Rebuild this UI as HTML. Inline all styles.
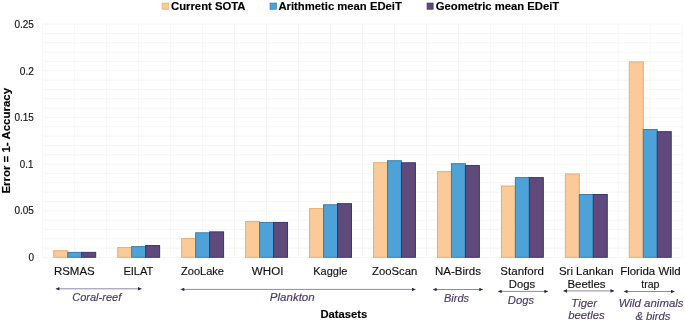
<!DOCTYPE html>
<html><head><meta charset="utf-8"><style>
html,body{margin:0;padding:0;background:#fff;}
body{width:685px;height:322px;overflow:hidden;position:relative;font-family:"Liberation Sans",sans-serif;}
svg{position:absolute;left:0;top:0;filter:blur(0.35px);}
svg text{font-family:"Liberation Sans",sans-serif;stroke-width:0.15px;}
</style></head><body>
<svg width="685" height="322" viewBox="0 0 685 322">
<defs>
<marker id="ah" viewBox="0 0 10 10" refX="10" refY="5" markerWidth="4" markerHeight="3.6" orient="auto-start-reverse" markerUnits="userSpaceOnUse"><path d="M0,0 L10,5 L0,10 z" fill="#2F2745"/></marker>
</defs>
<g stroke="#f6f6f6" stroke-width="1"><line x1="42.75" y1="257.50" x2="682.25" y2="257.50"/><line x1="42.75" y1="248.16" x2="682.25" y2="248.16"/><line x1="42.75" y1="238.83" x2="682.25" y2="238.83"/><line x1="42.75" y1="229.49" x2="682.25" y2="229.49"/><line x1="42.75" y1="220.16" x2="682.25" y2="220.16"/><line x1="42.75" y1="210.82" x2="682.25" y2="210.82"/><line x1="42.75" y1="201.48" x2="682.25" y2="201.48"/><line x1="42.75" y1="192.15" x2="682.25" y2="192.15"/><line x1="42.75" y1="182.81" x2="682.25" y2="182.81"/><line x1="42.75" y1="173.48" x2="682.25" y2="173.48"/><line x1="42.75" y1="164.14" x2="682.25" y2="164.14"/><line x1="42.75" y1="154.80" x2="682.25" y2="154.80"/><line x1="42.75" y1="145.47" x2="682.25" y2="145.47"/><line x1="42.75" y1="136.13" x2="682.25" y2="136.13"/><line x1="42.75" y1="126.80" x2="682.25" y2="126.80"/><line x1="42.75" y1="117.46" x2="682.25" y2="117.46"/><line x1="42.75" y1="108.12" x2="682.25" y2="108.12"/><line x1="42.75" y1="98.79" x2="682.25" y2="98.79"/><line x1="42.75" y1="89.45" x2="682.25" y2="89.45"/><line x1="42.75" y1="80.12" x2="682.25" y2="80.12"/><line x1="42.75" y1="70.78" x2="682.25" y2="70.78"/><line x1="42.75" y1="61.44" x2="682.25" y2="61.44"/><line x1="42.75" y1="52.11" x2="682.25" y2="52.11"/><line x1="42.75" y1="42.77" x2="682.25" y2="42.77"/><line x1="42.75" y1="33.44" x2="682.25" y2="33.44"/><line x1="42.75" y1="24.10" x2="682.25" y2="24.10"/><line x1="42.75" y1="24.10" x2="42.75" y2="257.50"/><line x1="74.72" y1="24.10" x2="74.72" y2="257.50"/><line x1="106.70" y1="24.10" x2="106.70" y2="257.50"/><line x1="138.68" y1="24.10" x2="138.68" y2="257.50"/><line x1="170.65" y1="24.10" x2="170.65" y2="257.50"/><line x1="202.62" y1="24.10" x2="202.62" y2="257.50"/><line x1="234.60" y1="24.10" x2="234.60" y2="257.50"/><line x1="266.58" y1="24.10" x2="266.58" y2="257.50"/><line x1="298.55" y1="24.10" x2="298.55" y2="257.50"/><line x1="330.53" y1="24.10" x2="330.53" y2="257.50"/><line x1="362.50" y1="24.10" x2="362.50" y2="257.50"/><line x1="394.48" y1="24.10" x2="394.48" y2="257.50"/><line x1="426.45" y1="24.10" x2="426.45" y2="257.50"/><line x1="458.43" y1="24.10" x2="458.43" y2="257.50"/><line x1="490.40" y1="24.10" x2="490.40" y2="257.50"/><line x1="522.38" y1="24.10" x2="522.38" y2="257.50"/><line x1="554.35" y1="24.10" x2="554.35" y2="257.50"/><line x1="586.33" y1="24.10" x2="586.33" y2="257.50"/><line x1="618.30" y1="24.10" x2="618.30" y2="257.50"/><line x1="650.27" y1="24.10" x2="650.27" y2="257.50"/><line x1="682.25" y1="24.10" x2="682.25" y2="257.50"/></g>
<g><rect x="53.77" y="250.72" width="13.97" height="6.58" fill="#FACB98" stroke="#E9AE72" stroke-width="1.0"/><rect x="67.74" y="252.40" width="13.97" height="4.90" fill="#4DA3D8" stroke="#3A7DAE" stroke-width="1.0"/><rect x="81.71" y="252.40" width="13.97" height="4.90" fill="#604A7B" stroke="#3A356C" stroke-width="1.0"/><rect x="117.72" y="247.54" width="13.97" height="9.76" fill="#FACB98" stroke="#E9AE72" stroke-width="1.0"/><rect x="131.69" y="246.61" width="13.97" height="10.69" fill="#4DA3D8" stroke="#3A7DAE" stroke-width="1.0"/><rect x="145.66" y="245.58" width="13.97" height="11.72" fill="#604A7B" stroke="#3A356C" stroke-width="1.0"/><rect x="181.67" y="238.58" width="13.97" height="18.72" fill="#FACB98" stroke="#E9AE72" stroke-width="1.0"/><rect x="195.64" y="232.79" width="13.97" height="24.51" fill="#4DA3D8" stroke="#3A7DAE" stroke-width="1.0"/><rect x="209.61" y="231.86" width="13.97" height="25.44" fill="#604A7B" stroke="#3A356C" stroke-width="1.0"/><rect x="245.62" y="221.59" width="13.97" height="35.71" fill="#FACB98" stroke="#E9AE72" stroke-width="1.0"/><rect x="259.59" y="222.43" width="13.97" height="34.87" fill="#4DA3D8" stroke="#3A7DAE" stroke-width="1.0"/><rect x="273.56" y="222.43" width="13.97" height="34.87" fill="#604A7B" stroke="#3A356C" stroke-width="1.0"/><rect x="309.57" y="208.61" width="13.97" height="48.69" fill="#FACB98" stroke="#E9AE72" stroke-width="1.0"/><rect x="323.54" y="204.78" width="13.97" height="52.52" fill="#4DA3D8" stroke="#3A7DAE" stroke-width="1.0"/><rect x="337.51" y="203.66" width="13.97" height="53.64" fill="#604A7B" stroke="#3A356C" stroke-width="1.0"/><rect x="373.52" y="162.68" width="13.97" height="94.62" fill="#FACB98" stroke="#E9AE72" stroke-width="1.0"/><rect x="387.49" y="160.72" width="13.97" height="96.58" fill="#4DA3D8" stroke="#3A7DAE" stroke-width="1.0"/><rect x="401.46" y="162.77" width="13.97" height="94.53" fill="#604A7B" stroke="#3A356C" stroke-width="1.0"/><rect x="437.47" y="171.64" width="13.97" height="85.66" fill="#FACB98" stroke="#E9AE72" stroke-width="1.0"/><rect x="451.44" y="163.71" width="13.97" height="93.59" fill="#4DA3D8" stroke="#3A7DAE" stroke-width="1.0"/><rect x="465.41" y="165.57" width="13.97" height="91.73" fill="#604A7B" stroke="#3A356C" stroke-width="1.0"/><rect x="501.42" y="186.02" width="13.97" height="71.28" fill="#FACB98" stroke="#E9AE72" stroke-width="1.0"/><rect x="515.39" y="177.62" width="13.97" height="79.68" fill="#4DA3D8" stroke="#3A7DAE" stroke-width="1.0"/><rect x="529.36" y="177.62" width="13.97" height="79.68" fill="#604A7B" stroke="#3A356C" stroke-width="1.0"/><rect x="565.37" y="173.98" width="13.97" height="83.32" fill="#FACB98" stroke="#E9AE72" stroke-width="1.0"/><rect x="579.34" y="194.52" width="13.97" height="62.78" fill="#4DA3D8" stroke="#3A7DAE" stroke-width="1.0"/><rect x="593.31" y="194.52" width="13.97" height="62.78" fill="#604A7B" stroke="#3A356C" stroke-width="1.0"/><rect x="629.32" y="61.94" width="13.97" height="195.36" fill="#FACB98" stroke="#E9AE72" stroke-width="1.0"/><rect x="643.29" y="129.54" width="13.97" height="127.76" fill="#4DA3D8" stroke="#3A7DAE" stroke-width="1.0"/><rect x="657.26" y="131.68" width="13.97" height="125.62" fill="#604A7B" stroke="#3A356C" stroke-width="1.0"/></g>
<g><text id="leg1" transform="translate(171.00,9.60) scale(0.9842,1)" font-size="11.5" font-weight="bold" font-style="normal" fill="#000" stroke="#000">Current SOTA</text><text id="leg2" transform="translate(278.41,9.60) scale(0.9825,1)" font-size="11.5" font-weight="bold" font-style="normal" fill="#000" stroke="#000">Arithmetic mean EDeiT</text><text id="leg3" transform="translate(435.80,9.60) scale(0.9825,1)" font-size="11.5" font-weight="bold" font-style="normal" fill="#000" stroke="#000">Geometric mean EDeiT</text><text id="t0" transform="translate(28.43,260.80) scale(0.9095,1)" font-size="11" font-weight="normal" font-style="normal" fill="#111" stroke="#111">0</text><text id="t1" transform="translate(14.43,214.30) scale(0.9095,1)" font-size="11" font-weight="normal" font-style="normal" fill="#111" stroke="#111">0.05</text><text id="t2" transform="translate(19.81,167.90) scale(0.8800,1)" font-size="11" font-weight="normal" font-style="normal" fill="#111" stroke="#111">0.1</text><text id="t3" transform="translate(14.43,121.00) scale(0.9095,1)" font-size="11" font-weight="normal" font-style="normal" fill="#111" stroke="#111">0.15</text><text id="t4" transform="translate(19.81,74.80) scale(0.9267,1)" font-size="11" font-weight="normal" font-style="normal" fill="#111" stroke="#111">0.2</text><text id="t5" transform="translate(14.43,28.00) scale(0.9095,1)" font-size="11" font-weight="normal" font-style="normal" fill="#111" stroke="#111">0.25</text><text id="x0" transform="translate(53.96,275.00) scale(1.0421,1)" font-size="11" font-weight="normal" font-style="normal" fill="#111" stroke="#111">RSMAS</text><text id="x1" transform="translate(123.40,275.00) scale(1.0069,1)" font-size="11" font-weight="normal" font-style="normal" fill="#111" stroke="#111">EILAT</text><text id="x2" transform="translate(181.00,275.00) scale(1.0047,1)" font-size="11" font-weight="normal" font-style="normal" fill="#111" stroke="#111">ZooLake</text><text id="x3" transform="translate(251.82,275.00) scale(1.0552,1)" font-size="11" font-weight="normal" font-style="normal" fill="#111" stroke="#111">WHOI</text><text id="x4" transform="translate(313.20,275.00) scale(1.0029,1)" font-size="11" font-weight="normal" font-style="normal" fill="#111" stroke="#111">Kaggle</text><text id="x5" transform="translate(372.00,275.00) scale(1.0273,1)" font-size="11" font-weight="normal" font-style="normal" fill="#111" stroke="#111">ZooScan</text><text id="x6" transform="translate(434.95,275.00) scale(1.0465,1)" font-size="11" font-weight="normal" font-style="normal" fill="#111" stroke="#111">NA-Birds</text><text id="x7a" transform="translate(500.36,275.00) scale(1.0475,1)" font-size="11" font-weight="normal" font-style="normal" fill="#111" stroke="#111">Stanford</text><text id="x7b" transform="translate(508.79,287.90) scale(1.0240,1)" font-size="11" font-weight="normal" font-style="normal" fill="#111" stroke="#111">Dogs</text><text id="x8a" transform="translate(558.98,275.20) scale(1.0385,1)" font-size="11" font-weight="normal" font-style="normal" fill="#111" stroke="#111">Sri Lankan</text><text id="x8b" transform="translate(567.39,288.00) scale(1.0417,1)" font-size="11" font-weight="normal" font-style="normal" fill="#111" stroke="#111">Beetles</text><text id="x9a" transform="translate(620.18,275.10) scale(1.0439,1)" font-size="11" font-weight="normal" font-style="normal" fill="#111" stroke="#111">Florida Wild</text><text id="x9b" transform="translate(641.20,288.00) scale(0.9632,1)" font-size="11" font-weight="normal" font-style="normal" fill="#111" stroke="#111">trap</text><text id="g0" transform="translate(72.20,300.70) scale(1.0040,1)" font-size="11" font-weight="normal" font-style="italic" fill="#4B3966" stroke="#4B3966">Coral-reef</text><text id="g1" transform="translate(269.79,300.80) scale(1.0500,1)" font-size="11" font-weight="normal" font-style="italic" fill="#4B3966" stroke="#4B3966">Plankton</text><text id="g2" transform="translate(444.00,301.80) scale(1.0000,1)" font-size="11" font-weight="normal" font-style="italic" fill="#4B3966" stroke="#4B3966">Birds</text><text id="g3" transform="translate(507.80,303.80) scale(1.0280,1)" font-size="11" font-weight="normal" font-style="italic" fill="#4B3966" stroke="#4B3966">Dogs</text><text id="g4a" transform="translate(571.37,306.70) scale(1.0250,1)" font-size="11" font-weight="normal" font-style="italic" fill="#4B3966" stroke="#4B3966">Tiger</text><text id="g4b" transform="translate(568.20,319.10) scale(1.0314,1)" font-size="11" font-weight="normal" font-style="italic" fill="#4B3966" stroke="#4B3966">beetles</text><text id="g5a" transform="translate(618.77,307.30) scale(1.0426,1)" font-size="11" font-weight="normal" font-style="italic" fill="#4B3966" stroke="#4B3966">Wild animals</text><text id="g5b" transform="translate(635.39,319.50) scale(1.0265,1)" font-size="11" font-weight="normal" font-style="italic" fill="#4B3966" stroke="#4B3966">&amp; birds</text><text id="ds" transform="translate(320.38,318.20) scale(1.0222,1)" font-size="11" font-weight="bold" font-style="normal" fill="#000" stroke="#000">Datasets</text></g>
<rect x="162.1" y="3.1" width="6.3" height="6.1" fill="#FACB98" stroke="#E9AE72" stroke-width="0.8"/>
<rect x="270.1" y="3.1" width="6.3" height="6.1" fill="#4DA3D8" stroke="#3A7DAE" stroke-width="0.8"/>
<rect x="427.1" y="3.1" width="6.0" height="6.1" fill="#604A7B" stroke="#3A356C" stroke-width="0.8"/>
<text id="ylabel" transform="translate(9.9,193.62) rotate(-90) scale(1.0724,1)" font-size="10.7" font-weight="bold" fill="#000" stroke="#000">Error = 1- Accuracy</text>
<g stroke="#8F88A3" stroke-width="1" marker-start="url(#ah)" marker-end="url(#ah)">
<line x1="55.8" y1="288.8" x2="141.6" y2="288.8"/>
<line x1="180.7" y1="289.4" x2="415.5" y2="289.4"/>
<line x1="433" y1="289.5" x2="482.9" y2="289.5"/>
<line x1="498.1" y1="291.4" x2="548" y2="291.4"/>
<line x1="563.4" y1="290.9" x2="614.1" y2="290.9"/>
<line x1="623.9" y1="291.5" x2="674.6" y2="291.5"/>
</g>
</svg>
</body></html>
